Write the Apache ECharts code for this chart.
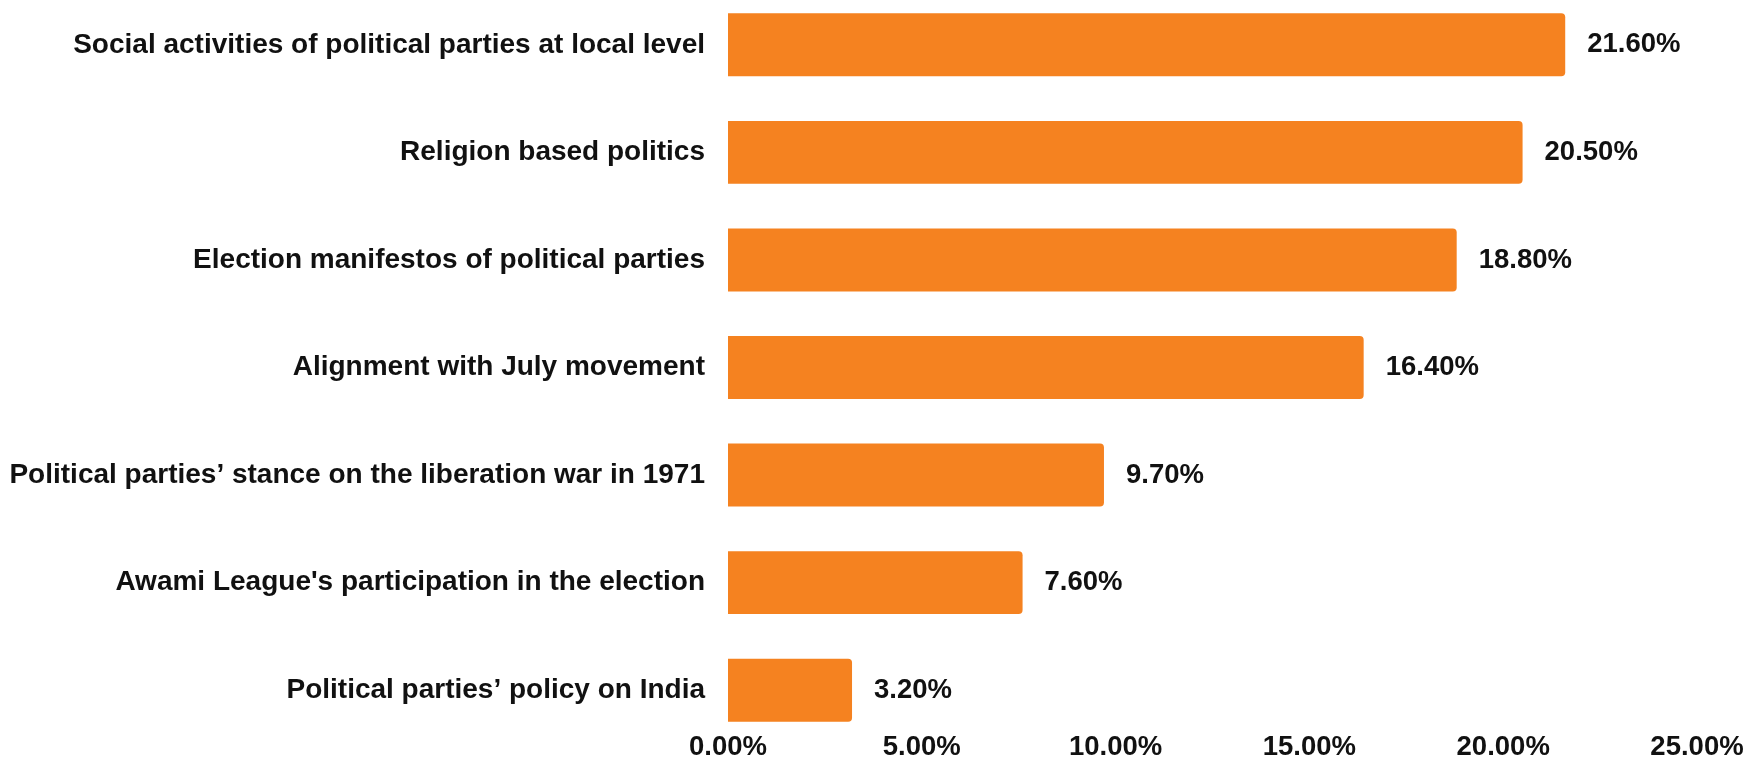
<!DOCTYPE html>
<html>
<head>
<meta charset="utf-8">
<title>Factors influencing voting decisions</title>
<script src="https://cdn.jsdelivr.net/npm/echarts@6/dist/echarts.min.js"></script>
<style>
  html, body { margin: 0; padding: 0; background: #ffffff; overflow: hidden; width: 1753px; height: 761px; }
  /* canvas starts slightly above the page so the top band can be clipped */
  #chart { position: absolute; left: 0; top: -9px; width: 1753px; height: 770px; }
</style>
</head>
<body>
<div id="chart"></div>
<script>
// Categories, listed top to bottom
const categories = [
  'Social activities of political parties at local level',
  'Religion based politics',
  'Election manifestos of political parties',
  'Alignment with July movement',
  'Political parties\u2019 stance on the liberation war in 1971',
  "Awami League's participation in the election",
  'Political parties\u2019 policy on India'
];

// Share of respondents (%)
const shares = [21.6, 20.5, 18.8, 16.4, 9.7, 7.6, 3.2];

// Value axis ticks (%)
const xTicks = [0, 5, 10, 15, 20, 25];

const FONT = '"Liberation Sans", Arial, sans-serif';
const chart = echarts.init(document.getElementById('chart'), null, { renderer: 'canvas' });

chart.setOption({
  animation: false,
  backgroundColor: '#ffffff',
  grid: { left: 728, width: 969, top: 0, bottom: 11, containLabel: false },
  xAxis: {
    type: 'value',
    min: xTicks[0],
    max: xTicks[xTicks.length - 1],
    interval: xTicks[1] - xTicks[0],
    axisLine: { show: false },
    axisTick: { show: false },
    splitLine: { show: false },
    axisLabel: {
      margin: -11,
      color: '#111111',
      fontFamily: FONT,
      fontWeight: 'bold',
      fontSize: 27.5,
      formatter: v => v.toFixed(2) + '%'
    }
  },
  yAxis: {
    type: 'category',
    data: categories,
    inverse: true,
    axisLine: { show: false },
    axisTick: { show: false },
    splitLine: { show: false },
    axisLabel: {
      margin: 23,
      color: '#111111',
      fontFamily: FONT,
      fontWeight: 'bold',
      fontSize: 28
    }
  },
  series: [{
    type: 'bar',
    data: shares,
    barCategoryGap: '41.5%',
    itemStyle: { color: '#F58220', borderRadius: [0, 4, 4, 0] },
    label: {
      show: true,
      position: 'right',
      distance: 22,
      color: '#111111',
      fontFamily: FONT,
      fontWeight: 'bold',
      fontSize: 27.5,
      formatter: p => p.value.toFixed(2) + '%'
    }
  }]
});
</script>
</body>
</html>
